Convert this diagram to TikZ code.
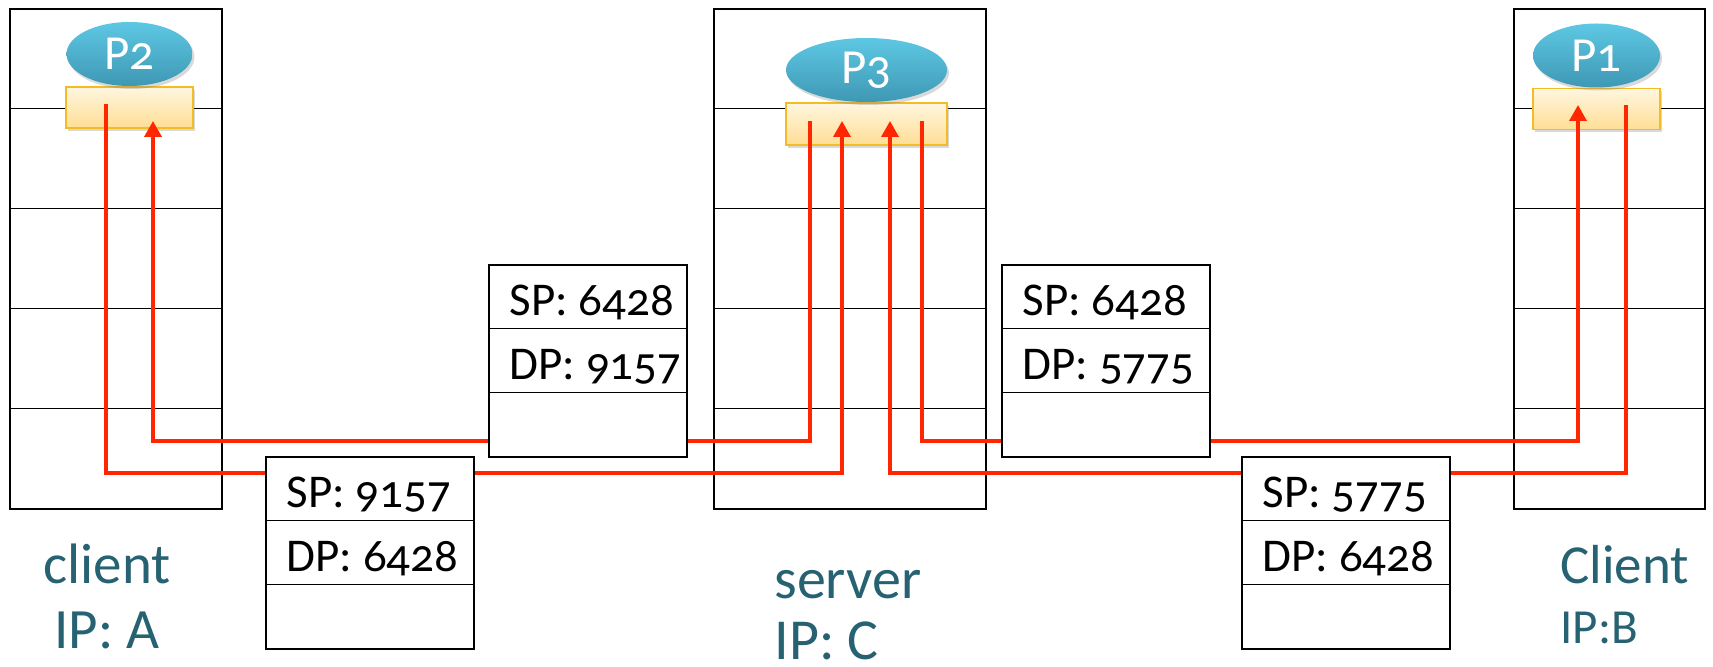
\documentclass[tikz,border=0pt]{standalone}
\usepackage{fontspec}
\setmainfont{Carlito}[Numbers=OldStyle]
\usetikzlibrary{arrows.meta,positioning,shapes.geometric,shadows}

\definecolor{wirered}{RGB}{255,38,0}
\definecolor{hosttext}{RGB}{38,98,114}
\definecolor{proctop}{RGB}{94,200,228}
\definecolor{procbot}{RGB}{62,152,180}
\definecolor{socktop}{RGB}{255,246,224}
\definecolor{sockbot}{RGB}{255,222,148}
\definecolor{sockedge}{RGB}{244,188,36}

\tikzset{
  rule/.style={line width=0.7pt},
  host/.style={draw, rule, minimum height=250pt, inner sep=0pt},
  sock/.style={draw=sockedge, line width=0.6pt, top color=socktop, bottom color=sockbot,
    minimum height=20.5pt, inner sep=0pt,
    drop shadow={opacity=0.3, shadow xshift=1pt, shadow yshift=-1.5pt}},
  proc/.style={ellipse, top color=proctop, bottom color=procbot, minimum height=32pt,
    inner sep=0pt, text=white, font=\fontsize{24.5}{26}\selectfont,
    drop shadow={opacity=0.3, shadow xshift=1pt, shadow yshift=-1.5pt}},
  pkt/.style={draw, rule, fill=white, minimum height=96pt, inner sep=0pt},
  field/.style={anchor=base west, inner sep=0pt, font=\fontsize{23.5}{25}\selectfont},
  wire/.style={draw=wirered, line width=1.8pt},
  towards/.style={wire, -{Triangle[length=8pt,width=8.5pt]}},
  hostname/.style={text=hosttext, inner sep=0pt}
}

\begin{document}
\begin{tikzpicture}[x=0.5pt, y=-0.5pt]
\useasboundingbox (0,0) rectangle (1713,667);

% the three protocol stacks
\node[host, minimum width=106pt] (hostA) at (116,259) {};
\node[host, minimum width=136pt] (hostC) at (850,259) {};
\node[host, minimum width=95.5pt] (hostB) at (1609.5,259) {};
\foreach \h in {hostA,hostC,hostB}
  \foreach \r in {1,...,4}
    \draw[rule] ([yshift=-\r*50pt]\h.north west) -- ([yshift=-\r*50pt]\h.north east);

% sockets and processes
\node[sock, minimum width=63.5pt] (sockA) at (129.5,107.5) {};
\node[sock, minimum width=80.5pt, minimum height=21pt] (sockC) at (866.5,124) {};
\node[sock, minimum width=63.5pt] (sockB) at (1596.5,109) {};
\node[proc, minimum width=63pt, above=0pt of sockA] (procA) {P2};
\node[proc, minimum width=80.5pt, above=0pt of sockC] (procC) {P3};
\node[proc, minimum width=63.5pt, above=0pt of sockB] (procB) {P1};

% wire ends
\coordinate (A-send) at (106,104);
\coordinate (A-recv) at (153,121);
\coordinate (C-sendA) at (810,121);
\coordinate (C-recvA) at (842,121);
\coordinate (C-recvB) at (890,121);
\coordinate (C-sendB) at (922,121);
\coordinate (B-recv) at (1578,105);
\coordinate (B-send) at (1626,105);
\coordinate (upper) at (0,441);
\coordinate (lower) at (0,473);

\draw[towards] (A-send) -- (A-send |- lower) -| (C-recvA);
\draw[towards] (C-sendA) -- (C-sendA |- upper) -| (A-recv);
\draw[towards] (C-sendB) -- (C-sendB |- upper) -| (B-recv);
\draw[towards] (B-send) -- (B-send |- lower) -| (C-recvB);

% segments on the wire
\foreach \p/\x/\y/\w/\sp/\dp in {AC/370/553/104/9157/6428, CA/588/361/99/6428/9157,
    CB/1106/361/104/6428/5775, BC/1346/553/104/5775/6428} {
  \node[pkt, minimum width=\w pt] (pkt\p) at (\x,\y) {};
  \draw[rule] ([yshift=-32pt]pkt\p.north west) -- ([yshift=-32pt]pkt\p.north east)
              ([yshift=-64pt]pkt\p.north west) -- ([yshift=-64pt]pkt\p.north east);
  \node[field] (sp\p) at ([xshift=10.5pt,yshift=-25.5pt]pkt\p.north west) {SP: \sp};
  \node[field] (dp\p) at ([xshift=10.5pt,yshift=-57.5pt]pkt\p.north west) {DP: \dp};
}

% host names
\node[hostname, anchor=base, font=\fontsize{28.5}{30}\selectfont] (nameA) at (107,584) {client};
\node[hostname, anchor=base, font=\fontsize{28.5}{30}\selectfont] (ipA) at (107,648) {IP: A};
\node[hostname, anchor=base west, font=\fontsize{29}{31}\selectfont] (nameC) at (774,599) {server};
\node[hostname, anchor=base west, font=\fontsize{29}{31}\selectfont] (ipC) at (774,660) {IP: C};
\node[hostname, anchor=base west, font=\fontsize{27.5}{29}\selectfont] (nameB) at (1560,583) {Client};
\node[hostname, anchor=base west, font=\fontsize{24.5}{26}\selectfont] (ipB) at (1560,643) {IP:B};
\end{tikzpicture}
\end{document}
